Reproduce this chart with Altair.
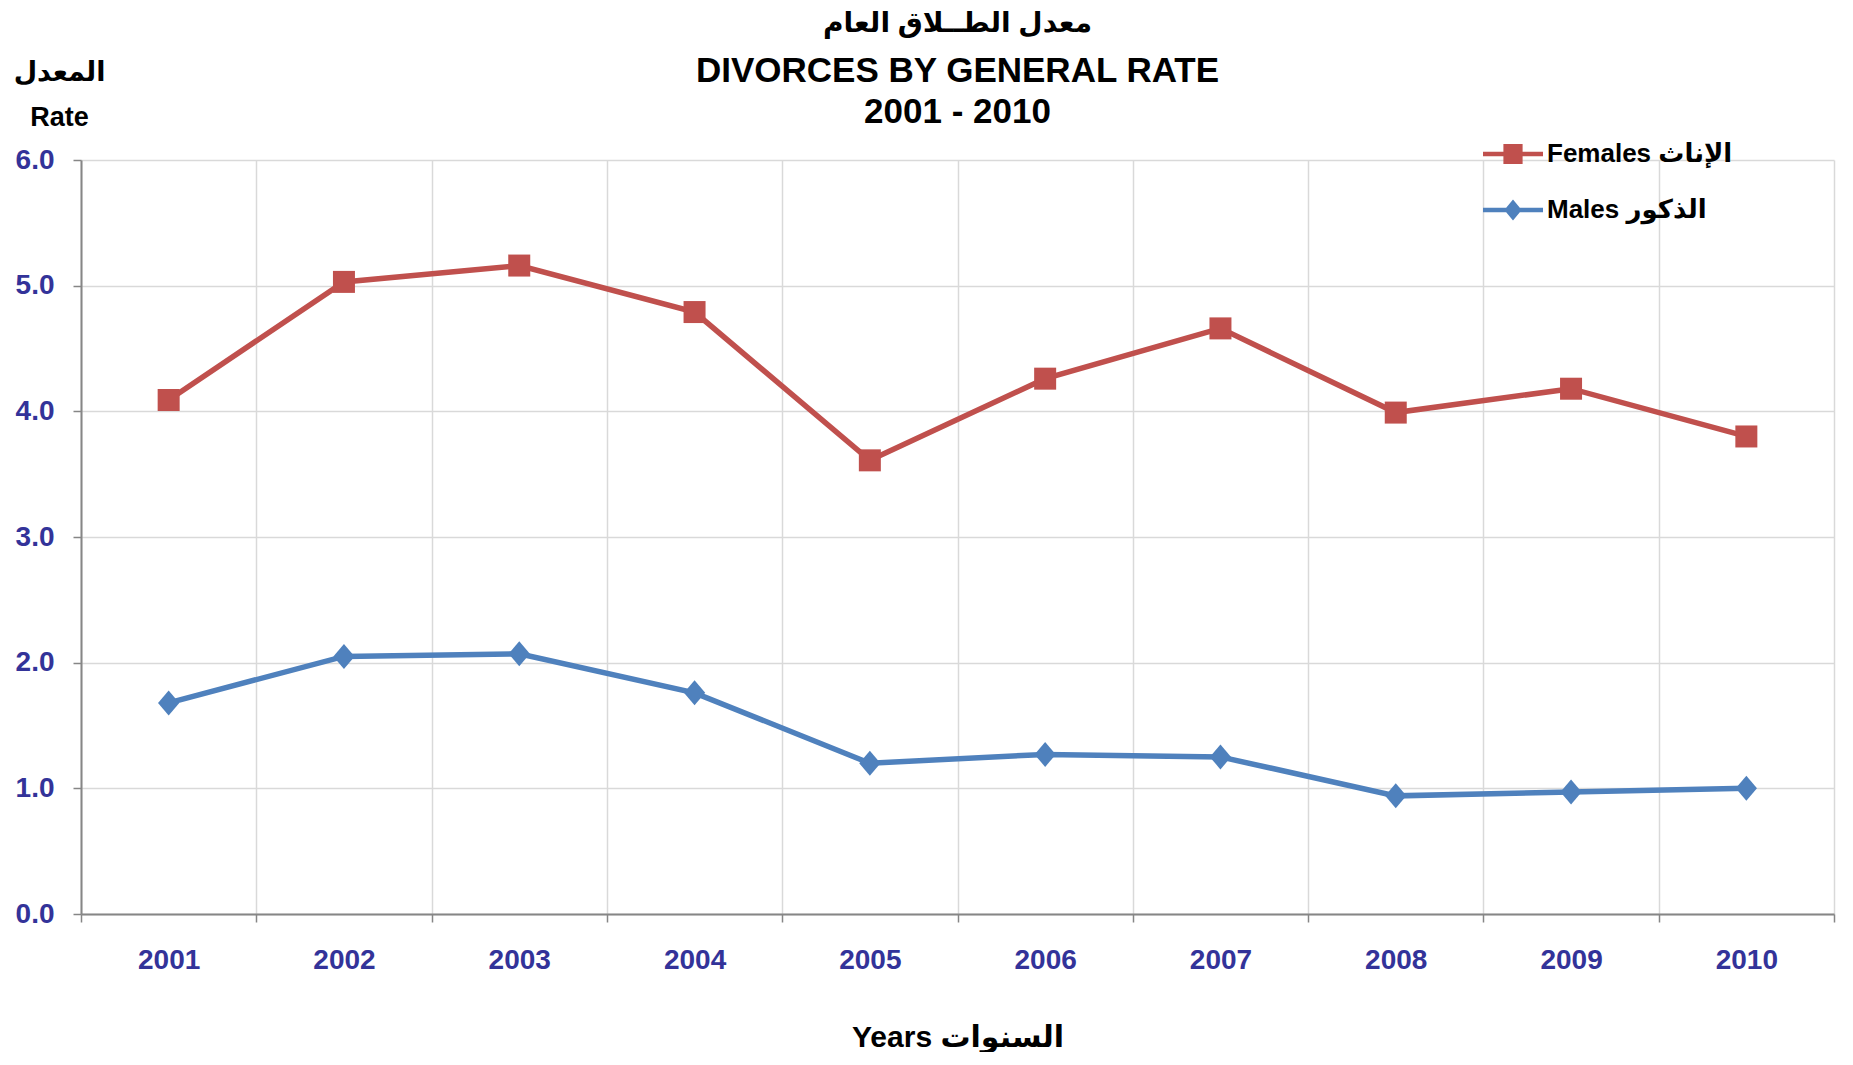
import altair as alt
import pandas as pd

# ---- data ----
YEARS = [2001, 2002, 2003, 2004, 2005, 2006, 2007, 2008, 2009, 2010]
FEMALES = [4.09, 5.03, 5.16, 4.79, 3.61, 4.26, 4.66, 3.99, 4.18, 3.80]
MALES = [1.68, 2.05, 2.07, 1.76, 1.20, 1.27, 1.25, 0.94, 0.97, 1.00]
SERIES = ["Females الإناث", "Males الذكور"]
COLORS = ["#C0504D", "#4F81BD"]
Y_TICKS = [0, 1, 2, 3, 4, 5, 6]

TITLE_AR = "معدل الطــلاق العام"
TITLE_EN = ["DIVORCES BY GENERAL RATE", "2001 - 2010"]
Y_TITLE = ["المعدل", "Rate"]
X_TITLE = "Years  السنوات"

df = pd.DataFrame({
    "year": YEARS + YEARS,
    "rate": FEMALES + MALES,
    "series": [SERIES[0]] * len(YEARS) + [SERIES[1]] * len(YEARS),
})

TOTAL_W, TOTAL_H = 1837, 1044
FONT = "Liberation Sans, Arial, DejaVu Sans"
BOUNDS = [y - 0.5 for y in YEARS] + [YEARS[-1] + 0.5]

SQ_SHAPE = "square"
DI_SHAPE = "M0,-1L0.85,0L0,1L-0.85,0Z"
BAR = "M-1,-0.075L1,-0.075L1,0.075L-1,0.075Z"
LEG_SQ = BAR + "M-0.32,-0.33L0.32,-0.33L0.32,0.33L-0.32,0.33Z"
LEG_DI = BAR + "M0,-0.35L0.29,0L0,0.35L-0.29,0Z"

xs = alt.Scale(domain=[BOUNDS[0], BOUNDS[-1]], nice=False, zero=False)

# axis carrying the grid, ticks and domain line (at band boundaries)
x_grid = alt.X(
    "year:Q", scale=xs,
    axis=alt.Axis(orient="bottom", values=BOUNDS, labels=False, grid=True,
                  ticks=True, domain=True, title=None),
)
# axis carrying the year labels and the axis title
x_lab = alt.X(
    "year:Q", scale=xs,
    axis=alt.Axis(
        orient="bottom", values=YEARS, format="d", grid=False, ticks=False,
        tickSize=0, domain=False, labelPadding=32, labelFlush=False,
        labelOverlap=False, labelFontSize=28,
        title=X_TITLE, titleFont=FONT, titleFontSize=30, titleFontWeight="bold",
        titleColor="black", titleBaseline="middle", titleY=123,
    ),
)
x_none = alt.X("year:Q", scale=xs, axis=None)

y_enc = alt.Y(
    "rate:Q",
    scale=alt.Scale(domain=[0, 6], nice=False),
    axis=alt.Axis(
        values=Y_TICKS,
        format=".1f",
        labelPadding=19,
        labelFontSize=28,
        title=Y_TITLE,
        titleAngle=0,
        titleAlign="center",
        titleBaseline="middle",
        titleX=-22,
        titleY=-88,
        titleLineHeight=45,
        titleFont=FONT,
        titleFontSize=27,
        titleFontWeight="bold",
        titleColor="black",
    ),
)

base = alt.Chart(df)
fem = base.transform_filter(alt.datum.series == SERIES[0])
mal = base.transform_filter(alt.datum.series == SERIES[1])

line_f = fem.mark_line(color=COLORS[0], strokeWidth=5.5).encode(x=x_grid, y=y_enc)
line_m = mal.mark_line(color=COLORS[1], strokeWidth=5.5).encode(x=x_lab, y=y_enc)
pts_f = fem.mark_point(shape=SQ_SHAPE, color=COLORS[0], filled=True, size=484,
                       opacity=1, strokeWidth=0).encode(x=x_none, y=y_enc)
pts_m = mal.mark_point(shape=DI_SHAPE, color=COLORS[1], filled=True, size=625,
                       opacity=1, strokeWidth=0).encode(x=x_none, y=y_enc)

leg_def = alt.Legend(
    title=None,
    orient="none",
    legendX=1402,
    legendY=-36,
    direction="vertical",
    symbolSize=3600,
    symbolStrokeWidth=0,
    symbolOpacity=1,
    labelFont=FONT,
    labelFontSize=26,
    labelFontWeight="bold",
    labelColor="black",
    labelLimit=600,
    labelOffset=4,
    rowPadding=13,
    padding=0,
)
leg = base.transform_filter("false").mark_point(filled=True, opacity=1, strokeWidth=0).encode(
    x=x_none,
    y=y_enc,
    color=alt.Color("series:N", scale=alt.Scale(domain=SERIES, range=COLORS), legend=leg_def),
    shape=alt.Shape("series:N", scale=alt.Scale(domain=SERIES, range=[LEG_SQ, LEG_DI]), legend=leg_def),
)

chart = (
    alt.layer(line_f, line_m, pts_f, pts_m, leg)
    .resolve_axis(x="independent")
    .properties(
        width=TOTAL_W,
        height=TOTAL_H,
        autosize=alt.AutoSizeParams(type="fit", contains="padding"),
        padding={"left": 5, "top": 2, "right": 10, "bottom": 0},
        title=alt.TitleParams(
            text=TITLE_AR,
            subtitle=TITLE_EN,
            font=FONT,
            fontSize=28,
            fontWeight="bold",
            color="black",
            subtitleFont=FONT,
            subtitleFontSize=35,
            subtitleFontWeight="bold",
            subtitleColor="black",
            subtitleLineHeight=41,
            subtitlePadding=16,
            anchor="middle",
            dy=76,
        ),
    )
    .configure_view(stroke=None)
    .configure_axis(
        labelFont=FONT,
        labelFontSize=27,
        labelFontWeight="bold",
        labelColor="#333399",
        gridColor="#D9D9D9",
        gridWidth=1.5,
        domainColor="#868686",
        domainWidth=2,
        tickColor="#868686",
        tickWidth=1.5,
        tickSize=8,
    )
)

chart.save("out.html", embed_options={"renderer": "svg", "actions": False})
